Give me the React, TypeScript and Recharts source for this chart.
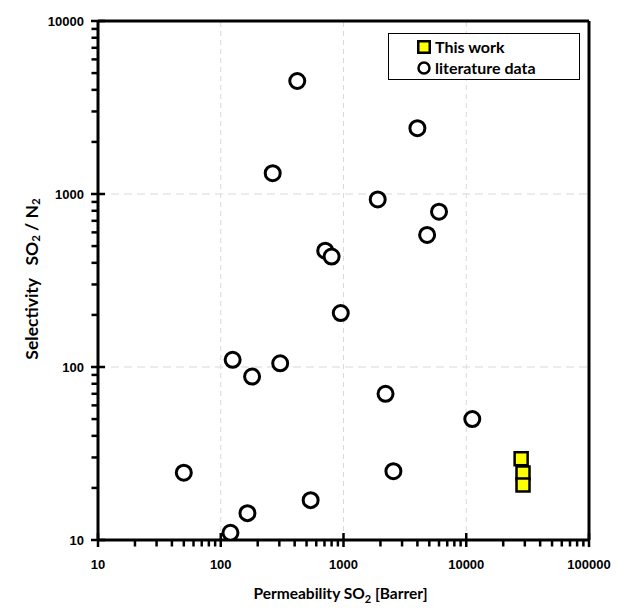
import React from 'react';
import { ScatterChart, Scatter, XAxis, YAxis, ReferenceLine, Legend, Label } from 'recharts';

const literaturePermeability = [420, 4000, 265, 1900, 6000, 4800, 710, 800, 950, 125, 180, 305, 2200, 11200, 50, 2550, 540, 165, 120];
const literatureSelectivity = [4500, 2400, 1320, 930, 790, 580, 470, 435, 205, 110, 88, 105, 70, 50, 24.5, 25, 17, 14.3, 11];
const thisWorkPermeability = [28000, 29000, 29000];
const thisWorkSelectivity = [29.5, 24.4, 20.8];

const xMajorTicks = [10, 100, 1000, 10000, 100000];
const yMajorTicks = [10, 100, 1000, 10000];
const minorMultipliers = [1, 2, 3, 4, 5, 6, 7, 8, 9];

const xTickLabels = ['10', '100', '1000', '10000', '100000'];
const yTickLabels = ['10', '100', '1000', '10000'];

const allTicks = (majors: number[]) => {
  const out: number[] = [];
  majors.forEach((m, i) => {
    if (i === majors.length - 1) out.push(m);
    else minorMultipliers.forEach((k) => out.push(Math.round(m * k)));
  });
  return out;
};

const literatureData = literaturePermeability.map((x, i) => ({ x, y: literatureSelectivity[i] }));
const thisWorkData = thisWorkPermeability.map((x, i) => ({ x, y: thisWorkSelectivity[i] }));

const FONT = 'Lato, "Open Sans", sans-serif';
const TICK_FONT = '"Liberation Sans", Arial, sans-serif';
const TICK_COLOR = '#000';

const renderXTick = (props: any) => {
  const x = Number(props.x);
  const y = Number(props.y);
  const idx = xMajorTicks.indexOf(Number(props.payload.value));
  const major = idx >= 0;
  return (
    <g>
      <rect x={x - 1.25} y={major ? y - 7 : y} width={2.5} height={major ? 14 : 6.5} fill={TICK_COLOR} stroke="none" />
      {major && (
        <text x={x} y={y + 29} textAnchor="middle" fontFamily={TICK_FONT} fontWeight={700} fontSize={13} fill="#000" stroke="none">
          {xTickLabels[idx]}
        </text>
      )}
    </g>
  );
};

const renderYTick = (props: any) => {
  const x = Number(props.x);
  const y = Number(props.y);
  const idx = yMajorTicks.indexOf(Number(props.payload.value));
  const major = idx >= 0;
  return (
    <g>
      <rect x={major ? x - 7 : x - 6.5} y={y - 1.25} width={major ? 14 : 6.5} height={2.5} fill={TICK_COLOR} stroke="none" />
      {major && (
        <text x={x - 14} y={y + 5} textAnchor="end" fontFamily={TICK_FONT} fontWeight={700} fontSize={13} fill="#000" stroke="none">
          {yTickLabels[idx]}
        </text>
      )}
    </g>
  );
};

const CircleShape = (p: any) => (
  <circle cx={p.cx} cy={p.cy} r={7.5} fill="#fff" stroke="#000" strokeWidth={3} />
);
const SquareShape = (p: any) => (
  <rect x={p.cx - 6.5} y={p.cy - 6.5} width={13} height={13} fill="#ffff00" stroke="#000" strokeWidth={2.5} />
);

const LegendBox = () => (
  <div
    style={{
      border: '1.5px solid #000',
      background: '#fff',
      width: 192,
      height: 47,
      boxSizing: 'border-box',
      fontFamily: FONT,
      fontWeight: 'bold',
      fontSize: 16,
      color: '#000',
      paddingLeft: 28,
      paddingTop: 2,
      lineHeight: '21px',
    }}
  >
    <div style={{ display: 'flex', alignItems: 'center' }}>
      <svg width={14} height={14} style={{ marginRight: 4 }}>
        <rect x={1.25} y={1.25} width={11.5} height={11.5} fill="#ffff00" stroke="#000" strokeWidth={2.5} />
      </svg>
      <span>This work</span>
    </div>
    <div style={{ display: 'flex', alignItems: 'center' }}>
      <svg width={14} height={14} style={{ marginRight: 4 }}>
        <circle cx={7} cy={7} r={5.5} fill="#fff" stroke="#000" strokeWidth={2.5} />
      </svg>
      <span>literature data</span>
    </div>
  </div>
);

const XTitle = (props: any) => {
  const { viewBox } = props;
  const cx = viewBox.x + viewBox.width / 2 - 3;
  return (
    <text x={cx} y={viewBox.y + 59} textAnchor="middle" fontFamily={FONT} fontWeight="bold" fontSize={15.5} fill="#000">
      <tspan>Permeability SO</tspan>
      <tspan fontSize={11} dy={4}>2</tspan>
      <tspan dy={-4}>{'\u00a0[Barrer]'}</tspan>
    </text>
  );
};

const YTitle = () => {
  const cy = 279;
  const cx = 31;
  return (
    <text
      x={cx}
      y={cy}
      transform={`rotate(-90, ${cx}, ${cy})`}
      textAnchor="middle"
      dominantBaseline="central"
      fontFamily={FONT}
      fontWeight="bold"
      fontSize={17.5}
      fill="#000"
    >
      <tspan>{'Selectivity\u00a0\u00a0\u00a0SO'}</tspan>
      <tspan fontSize={11.5} dy={4}>2</tspan>
      <tspan dy={-4}>{'\u00a0/\u00a0N'}</tspan>
      <tspan fontSize={11.5} dy={4}>2</tspan>
    </text>
  );
};

export default function App() {
  return (
    <div style={{ position: 'absolute', left: 0, top: 0, width: 619, height: 610, background: '#fff' }}>
      <ScatterChart width={619} height={610} margin={{ top: 21, right: 30, left: 0, bottom: 0 }}>
        <XAxis
          type="number"
          dataKey="x"
          scale="log"
          domain={[10, 100000]}
          allowDataOverflow
          ticks={allTicks(xMajorTicks)}
          interval={0}
          tick={renderXTick}
          tickLine={false}
          tickSize={0}
          tickMargin={0}
          height={70}
          axisLine={{ stroke: '#000', strokeWidth: 3 }}
        >
          <Label content={<XTitle />} />
        </XAxis>
        <YAxis
          type="number"
          dataKey="y"
          scale="log"
          domain={[10, 10000]}
          allowDataOverflow
          ticks={allTicks(yMajorTicks)}
          interval={0}
          tick={renderYTick}
          tickLine={false}
          tickSize={0}
          tickMargin={0}
          width={98}
          axisLine={{ stroke: '#000', strokeWidth: 3 }}
        >
          <Label content={<YTitle />} />
        </YAxis>
        {[100, 1000, 10000].map((v) => (
          <ReferenceLine key={'vx' + v} x={v} stroke="#d9d9d9" strokeDasharray="5 4" strokeWidth={1} />
        ))}
        {[100, 1000].map((v) => (
          <ReferenceLine key={'hy' + v} y={v} stroke="#d9d9d9" strokeDasharray="8 5" strokeWidth={1} />
        ))}
        <ReferenceLine y={10000} stroke="#000" strokeWidth={3} />
        <ReferenceLine x={100000} stroke="#000" strokeWidth={3} />
        <Legend
          layout="vertical"
          align="center"
          verticalAlign="middle"
          content={<LegendBox />}
          wrapperStyle={{ position: 'absolute', left: 388, top: 33, width: 192, height: 47 }}
        />
        <Scatter name="literature data" data={literatureData} shape={<CircleShape />} isAnimationActive={false} />
        <Scatter name="This work" data={thisWorkData} shape={<SquareShape />} isAnimationActive={false} />
      </ScatterChart>
    </div>
  );
}
